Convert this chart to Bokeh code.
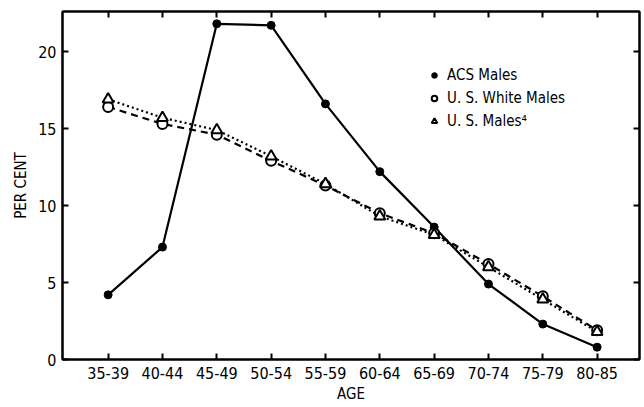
from bokeh.plotting import figure
from bokeh.models import (Range1d, FixedTicker, LinearAxis, Legend, LegendItem)
from bokeh.embed import file_html
from bokeh.resources import INLINE

categories = ["35-39", "40-44", "45-49", "50-54", "55-59", "60-64", "65-69", "70-74", "75-79", "80-85"]
acs_males = [4.2, 7.3, 21.8, 21.7, 16.6, 12.2, 8.6, 4.9, 2.3, 0.8]
us_white_males = [16.4, 15.3, 14.6, 12.9, 11.3, 9.5, 8.2, 6.2, 4.1, 1.9]
us_males = [16.9, 15.7, 14.9, 13.2, 11.4, 9.3, 8.1, 6.0, 3.9, 1.8]
y_ticks = [0, 5, 10, 15, 20]
legend_labels = ["ACS Males", "U. S. White Males", "U. S. Males\u2074"]

FONT = "DejaVu Sans Condensed, Liberation Sans"
xs = list(range(len(categories)))

p = figure(width=644, height=407, output_backend="svg", toolbar_location=None,
           x_range=Range1d(-0.84, 9.78), y_range=Range1d(0, 22.6),
           min_border_left=62, min_border_right=5, min_border_top=11, min_border_bottom=48)
p.xgrid.visible = False
p.ygrid.visible = False
p.outline_line_color = "black"
p.outline_line_width = 2
p.background_fill_color = "white"
p.border_fill_color = "white"

def style_axis(ax, show_labels=True):
    ax.axis_line_width = 2
    ax.axis_line_color = "black"
    ax.major_tick_in = 6
    ax.major_tick_out = 0
    ax.minor_tick_line_color = None
    ax.major_tick_line_width = 2
    ax.major_tick_line_color = "black"
    ax.major_label_text_font = FONT
    ax.major_label_text_font_size = "16px"
    ax.major_label_text_color = "black" if show_labels else None
    ax.axis_label_text_font = FONT
    ax.axis_label_text_font_size = "15px"
    ax.axis_label_text_font_style = "normal"
    ax.axis_label_text_color = "black"

xa = p.xaxis[0]
xa.ticker = FixedTicker(ticks=xs)
xa.major_label_overrides = {i: c for i, c in enumerate(categories)}
xa.axis_label = "AGE"
style_axis(xa)
xa.major_label_standoff = 7
xa.axis_label_standoff = 3

ya = p.yaxis[0]
ya.ticker = FixedTicker(ticks=y_ticks)
ya.axis_label = "PER CENT"
style_axis(ya)
ya.major_label_standoff = 6
ya.axis_label_standoff = 5

top = LinearAxis(ticker=FixedTicker(ticks=xs))
style_axis(top, False)
top.major_label_text_font_size = "0px"
top.major_label_standoff = 0
p.add_layout(top, "above")
right = LinearAxis(ticker=FixedTicker(ticks=y_ticks))
style_axis(right, False)
right.major_label_text_font_size = "0px"
right.major_label_standoff = 0
p.add_layout(right, "right")

p.line(xs, acs_males, line_color="black", line_width=2.2)
p.line(xs, us_white_males, line_color="black", line_width=2.2, line_dash="7 5")
p.line(xs, us_males, line_color="black", line_width=2.2, line_dash="2 3")

r1 = p.scatter(xs, acs_males, marker="circle", size=8, fill_color="black", line_color="black")
r2 = p.scatter(xs, us_white_males, marker="circle", size=10, fill_color="white", line_color="black", line_width=2)
r3 = p.scatter(xs, us_males, marker="triangle", size=11, fill_color="white", line_color="black", line_width=2)

legend = Legend(items=[LegendItem(label=legend_labels[0], renderers=[r1]),
                       LegendItem(label=legend_labels[1], renderers=[r2]),
                       LegendItem(label=legend_labels[2], renderers=[r3])],
                location=(365, 228), border_line_color=None, background_fill_alpha=0,
                padding=0, margin=0, spacing=3, label_height=20, glyph_height=20,
                glyph_width=14, label_standoff=6, label_text_font=FONT,
                label_text_font_size="15px", label_text_color="black")
p.add_layout(legend, "center")

open("out.html", "w").write(file_html(p, INLINE))
